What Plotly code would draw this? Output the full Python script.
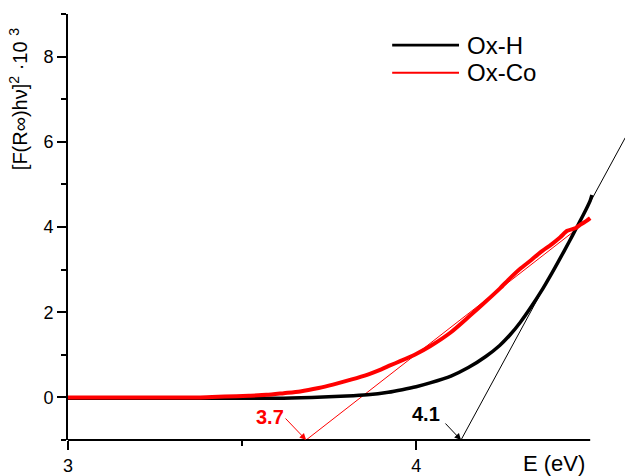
import plotly.graph_objects as go

# Ox-H absorption curve (Kubelka-Munk, Tauc form)
oxh_e = [3.00, 3.40, 3.60, 3.70, 3.80, 3.86, 3.92, 3.96, 4.00, 4.04, 4.10, 4.15,
         4.20, 4.24, 4.27, 4.30, 4.33, 4.36, 4.39, 4.41, 4.44, 4.46, 4.48, 4.50, 4.505]
oxh_f = [-0.02, -0.02, -0.02, 0.0, 0.03, 0.06, 0.12, 0.18, 0.25, 0.34, 0.50, 0.70,
         0.96, 1.22, 1.47, 1.77, 2.12, 2.50, 2.92, 3.21, 3.66, 3.97, 4.28, 4.62, 4.75]

# Ox-Co absorption curve
oxco_e = [3.00, 3.30, 3.38, 3.45, 3.52, 3.57, 3.62, 3.667, 3.72, 3.761, 3.81, 3.859,
          3.90, 3.925, 3.954, 4.00, 4.04, 4.10, 4.155, 4.20, 4.241, 4.27, 4.299, 4.33,
          4.356, 4.39, 4.414, 4.434, 4.457, 4.471, 4.485, 4.50]
oxco_f = [0.0, 0.0, 0.0, 0.02, 0.04, 0.06, 0.10, 0.14, 0.22, 0.30, 0.41, 0.53,
          0.66, 0.75, 0.85, 1.02, 1.20, 1.53, 1.92, 2.25, 2.56, 2.80, 3.02, 3.22,
          3.40, 3.60, 3.76, 3.91, 3.97, 4.05, 4.12, 4.21]

# Linear extrapolations of the absorption edges
tan_h_e = [4.129, 4.601]
tan_h_f = [-1.0, 6.10]
tan_co_e = [3.684, 4.466]
tan_co_f = [-1.0, 3.98]

x_major = [3, 4]
x_minor = [3.5]
y_major = [0, 2, 4, 6, 8]
y_minor = [-1, 1, 3, 5, 7, 9]

FONT = "Liberation Sans, Arial, sans-serif"

fig = go.Figure()
fig.add_trace(go.Scatter(x=tan_co_e, y=tan_co_f, mode="lines",
                         line=dict(color="red", width=1), showlegend=False))
fig.add_trace(go.Scatter(x=tan_h_e, y=tan_h_f, mode="lines",
                         line=dict(color="black", width=1), showlegend=False))
fig.add_trace(go.Scatter(x=oxh_e, y=oxh_f, mode="lines", name="Ox-H",
                         line=dict(color="black", width=3.5, shape="spline", smoothing=0.7),
                         showlegend=False))
fig.add_trace(go.Scatter(x=oxco_e, y=oxco_f, mode="lines", name="Ox-Co",
                         line=dict(color="red", width=4, shape="spline", smoothing=0.7),
                         showlegend=False))

# band-gap labels with arrows pointing at the intercepts on the axis
for e0, color, ax, ay, tx, ty in [(tan_co_e[0], "red", -22, -23, 3.580, -0.46),
                                  (tan_h_e[0], "black", -17, -18, 4.029, -0.38)]:
    fig.add_annotation(x=e0, y=-1, text="", showarrow=True, ax=ax, ay=ay,
                       arrowhead=2, arrowsize=1.3, arrowwidth=1, arrowcolor=color,
                       standoff=0)
    fig.add_annotation(x=tx, y=ty, text=f"<b>{e0:.1f}</b>", showarrow=False,
                       xanchor="center", yanchor="middle",
                       font=dict(family=FONT, size=20, color=color))

# x axis line ends at 4.5 while the plot area continues to the right
fig.add_shape(type="line", xref="x", yref="paper", x0=3, x1=4.5, y0=0, y1=0,
              line=dict(color="black", width=2))

# legend drawn with long line samples
legend_rows = [("Ox-H", "black", 2.7, 0.927), ("Ox-Co", "red", 2, 0.862)]
for label, color, w, yy in legend_rows:
    fig.add_shape(type="line", xref="paper", yref="paper", x0=0.582, x1=0.702,
                  y0=yy, y1=yy, line=dict(color=color, width=w))
    fig.add_annotation(xref="paper", yref="paper", x=0.712, y=yy, text=label,
                       showarrow=False, xanchor="left", yanchor="middle",
                       font=dict(family=FONT, size=24, color="black"))

fig.add_annotation(xref="paper", yref="paper", x=0.8725, y=-0.056, text="E (eV)",
                   showarrow=False, xanchor="center", yanchor="middle",
                   font=dict(family=FONT, size=22, color="black"))
fig.add_annotation(xref="paper", yref="paper", x=-0.0898, y=0.800,
                   text="[F(R\u221e)h\u03bd]<sup>2</sup> \u00b710 <sup>3</sup>",
                   textangle=-90, showarrow=False, xanchor="center", yanchor="middle",
                   font=dict(family=FONT, size=20, color="black"))

fig.update_xaxes(range=[3, 4.6], showline=False, showgrid=False, zeroline=False,
                 tickmode="array", tickvals=x_major, ticks="outside", ticklen=9,
                 tickwidth=1.5, tickcolor="black",
                 minor=dict(tickmode="array", tickvals=x_minor, ticks="outside",
                            ticklen=5, tickwidth=1.5, tickcolor="black", showgrid=False),
                 tickfont=dict(family=FONT, size=18, color="black"))
fig.update_yaxes(range=[-1, 9], showline=True, linecolor="black", linewidth=2,
                 showgrid=False, zeroline=False,
                 tickmode="array", tickvals=y_major, ticks="outside", ticklen=9,
                 tickwidth=1.5, tickcolor="black",
                 minor=dict(tickmode="array", tickvals=y_minor, ticks="outside",
                            ticklen=5, tickwidth=1.5, tickcolor="black", showgrid=False),
                 tickfont=dict(family=FONT, size=18, color="black"))

fig.update_layout(width=625, height=476, margin=dict(l=68, r=0, t=14, b=36),
                  plot_bgcolor="white", paper_bgcolor="white", showlegend=False)

fig.write_html("out.html")
